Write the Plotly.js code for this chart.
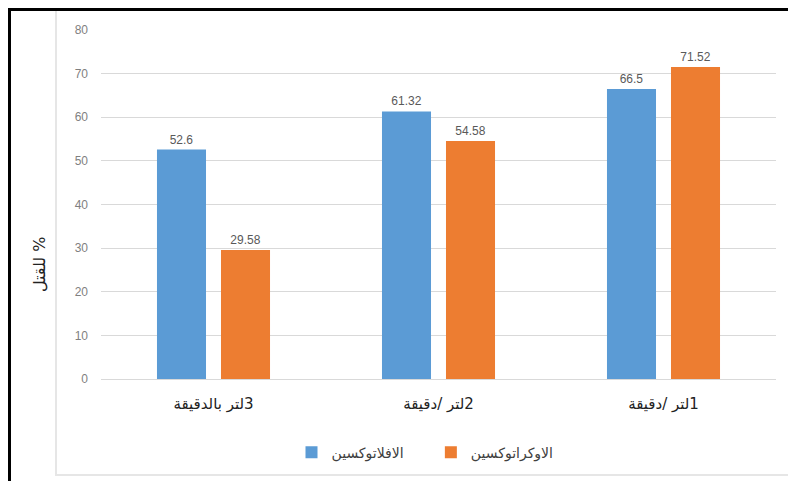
<!DOCTYPE html>
<html>
<head>
<meta charset="utf-8">
<script src="https://cdn.plot.ly/plotly-3.0.1.min.js"></script>
<style>
  html, body { margin: 0; padding: 0; background: #fff; }
  #wrap { position: relative; width: 788px; height: 481px; overflow: hidden; }
  #chart { position: absolute; left: 0; top: 0; width: 788px; height: 481px; }
  .frame-top { position: absolute; left: 8px; top: 8px; width: 780px; height: 3px; background: #000; pointer-events: none; }
  .frame-left { position: absolute; left: 8px; top: 8px; width: 3px; height: 473px; background: #000; pointer-events: none; }
  .inner-left { position: absolute; left: 55px; top: 11px; width: 2px; height: 464px; background: #e6e6e6; pointer-events: none; }
  .inner-bottom { position: absolute; left: 55px; top: 474px; width: 733px; height: 2px; background: #e6e6e6; pointer-events: none; }
</style>
</head>
<body>
<div id="wrap">
  <div id="chart"></div>
  <div class="frame-top"></div>
  <div class="frame-left"></div>
  <div class="inner-left"></div>
  <div class="inner-bottom"></div>
</div>
<script>
// Data
const RLM = "\u200F";
const categories = [RLM + "3لتر بالدقيقة", RLM + "2لتر /دقيقة", RLM + "1لتر /دقيقة"];
const aflatoxin = [52.6, 61.32, 66.5];
const ochratoxin = [29.58, 54.58, 71.52];
const seriesNames = ["الافلاتوكسين", "الاوكراتوكسين"];
const yTicks = [0, 10, 20, 30, 40, 50, 60, 70, 80];
const yTitle = RLM + "% للقتل";

const labelFont = { family: "Liberation Sans, Arial, sans-serif", size: 12, color: "#595959" };

const traces = [
  {
    type: "bar", name: seriesNames[0] + "\u00A0\u00A0\u00A0\u00A0\u00A0", x: categories, y: aflatoxin,
    marker: { color: "#5B9BD5" },
    text: aflatoxin.map(String), textposition: "outside", cliponaxis: false,
    textfont: labelFont, hoverinfo: "none"
  },
  {
    type: "bar", name: seriesNames[1], x: categories, y: ochratoxin,
    marker: { color: "#ED7D31" },
    text: ochratoxin.map(String), textposition: "outside", cliponaxis: false,
    textfont: labelFont, hoverinfo: "none"
  }
];

const layout = {
  width: 788, height: 481,
  margin: { l: 101, r: 12, t: 30, b: 102, autoexpand: false },
  paper_bgcolor: "#ffffff", plot_bgcolor: "#ffffff",
  barmode: "group", bargap: 0.431, bargroupgap: 0.234,
  showlegend: true,
  legend: {
    orientation: "h", x: 0.48, xanchor: "center", y: -0.165, yanchor: "top",
    font: { family: "DejaVu Sans, sans-serif", size: 14, color: "#404040" },
    itemwidth: 30, traceorder: "normal"
  },
  xaxis: {
    type: "category", showgrid: false, showline: false, zeroline: false,
    ticks: "", tickfont: { family: "DejaVu Sans, sans-serif", size: 15, color: "#222222" },
    ticklabelstandoff: 14, automargin: false
  },
  yaxis: {
    range: [0, 80], tickvals: yTicks, ticktext: yTicks.map(String),
    showgrid: true, gridcolor: "#d9d9d9", gridwidth: 1,
    zeroline: true, zerolinecolor: "#d9d9d9", zerolinewidth: 1,
    showline: false, ticks: "", automargin: false,
    tickfont: { family: "Liberation Sans, Arial, sans-serif", size: 12, color: "#7f7f7f" },
    ticklabelstandoff: 12
  },
  annotations: [
    {
      text: yTitle, textangle: -90, showarrow: false,
      xref: "paper", yref: "paper", x: -0.09, y: 0.33,
      xanchor: "center", yanchor: "middle",
      font: { family: "DejaVu Sans, sans-serif", size: 16, color: "#222222" }
    }
  ]
};

Plotly.newPlot("chart", traces, layout, { staticPlot: true, displayModeBar: false });
</script>
</body>
</html>
